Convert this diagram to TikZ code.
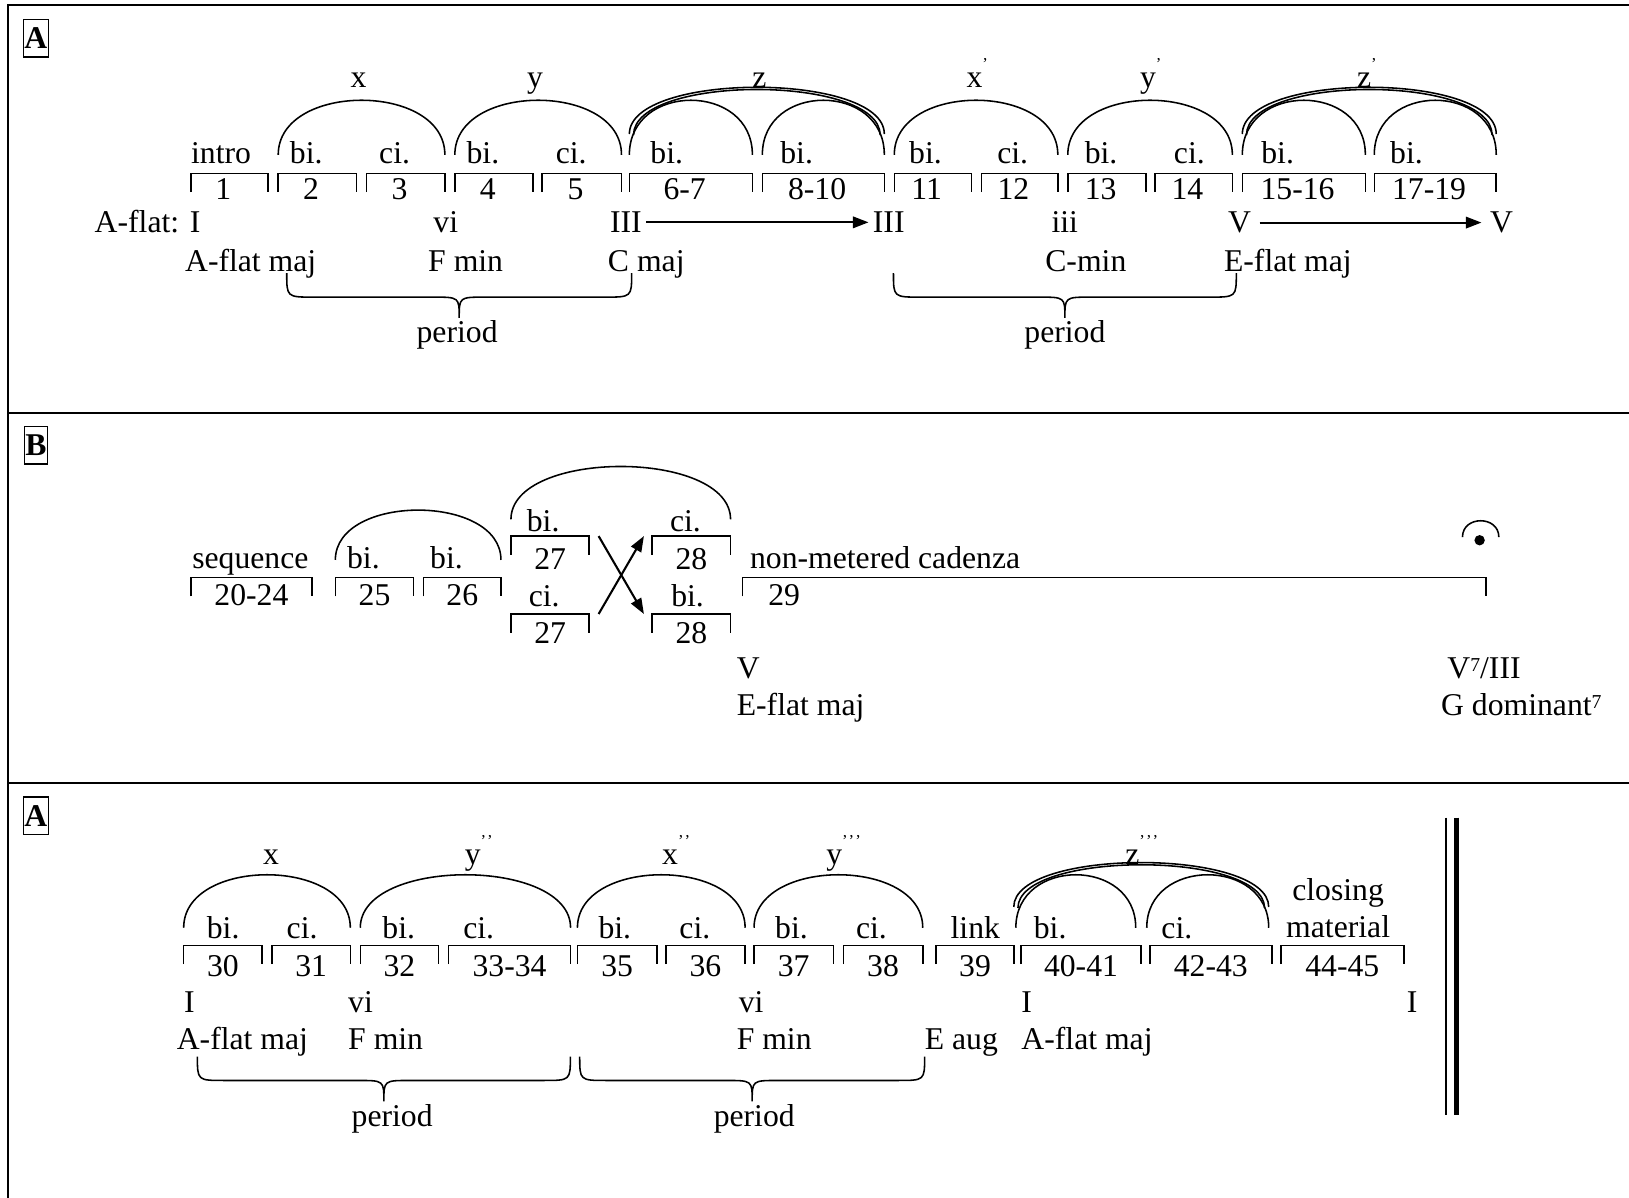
\documentclass[tikz,border=0pt]{standalone}
\usepackage{fontspec}
\setmainfont{Liberation Serif}
\usetikzlibrary{calc, arrows.meta}
\newcommand{\mk}[1]{\rlap{\raisebox{17pt}{\fontsize{16}{16}\selectfont #1}}}
\tikzset{
    every node/.style={font=\fontsize{30.5}{36}\selectfont, inner sep=0pt},
    bar/.style={anchor=north, text depth=0pt, text height=#1},
    bar/.default=30pt,
    shiftnum/.style={execute at begin node={\hspace*{-12pt}}},
    lbl/.style={anchor=base},
    chord/.style={anchor=base west},
    secbox/.style={draw, line width=1.4pt, font=\fontsize{30.5}{36}\selectfont\bfseries, inner xsep=1pt, inner ysep=8pt},
    slur/.style={line width=1.5pt},
    arrow/.style={-{Triangle[length=15pt, width=11pt]}, line width=2pt},
    frame/.style={line width=1.8pt},
}

\begin{document}
\begin{tikzpicture}[x=1pt, y=-1pt]
  \useasboundingbox (0,0) rectangle (1568,1153);
  % frame and dividers
  \draw[frame] (1570,4.8) -- (7.6,4.8) -- (7.6,1156);
  \draw[frame] (7.6,397.8) -- (1570,397.8);
  \draw[frame] (7.6,753.3) -- (1570,753.3);

  %%% section A, bars 1-19
  \node[secbox] (boxA) at (34.5,37) {A};
  \node[bar=25pt, shiftnum, minimum width=74pt] (m1) at (221,167) {1};
  \node[bar=25pt, shiftnum, minimum width=75pt] (m2) at (305.5,167) {2};
  \node[bar=25pt, shiftnum, minimum width=75pt] (m3) at (390.5,167) {3};
  \node[bar=25pt, shiftnum, minimum width=75pt] (m4) at (475.5,167) {4};
  \node[bar=25pt, shiftnum, minimum width=76pt] (m5) at (560,167) {5};
  \node[bar=25pt, shiftnum, minimum width=118pt] (m6) at (665,167) {6-7};
  \node[bar=25pt, shiftnum, minimum width=117pt] (m8) at (792.5,167) {8-10};
  \node[bar=25pt, shiftnum, minimum width=74pt] (m11) at (898,167) {11};
  \node[bar=25pt, shiftnum, minimum width=73pt] (m12) at (981.5,167) {12};
  \node[bar=25pt, shiftnum, minimum width=75pt] (m13) at (1065.5,167) {13};
  \node[bar=25pt, shiftnum, minimum width=74pt] (m14) at (1149,167) {14};
  \node[bar=25pt, shiftnum, minimum width=118pt] (m15) at (1255,167) {15-16};
  \node[bar=25pt, shiftnum, minimum width=117pt] (m17) at (1381.5,167) {17-19};
  \foreach \m in {m1,m2,m3,m4,m5,m6,m8,m11,m12,m13,m14,m15,m17}
    \draw[line width=1.5pt] ([yshift=-18pt]\m.north west) |- (\m.north east) -- ([yshift=-18pt]\m.north east);

  \node[lbl] (t1) at ($(m1.north west)+(29,-10)$) {intro};
  \node[lbl] (t2) at ($(m2.north west)+(27,-10)$) {bi.};
  \node[lbl] (t3) at ($(m3.north west)+(27,-10)$) {ci.};
  \node[lbl] (t4) at ($(m4.north west)+(27,-10)$) {bi.};
  \node[lbl] (t5) at ($(m5.north west)+(28,-10)$) {ci.};
  \node[lbl] (t6) at ($(m6.north west)+(36,-10)$) {bi.};
  \node[lbl] (t8) at ($(m8.north west)+(33,-10)$) {bi.};
  \node[lbl] (t11) at ($(m11.north west)+(30,-10)$) {bi.};
  \node[lbl] (t12) at ($(m12.north west)+(30,-10)$) {ci.};
  \node[lbl] (t13) at ($(m13.north west)+(32,-10)$) {bi.};
  \node[lbl] (t14) at ($(m14.north west)+(33,-10)$) {ci.};
  \node[lbl] (t15) at ($(m15.north west)+(34,-10)$) {bi.};
  \node[lbl] (t17) at ($(m17.north west)+(31,-10)$) {bi.};

  % phrase arcs
  \draw[slur] ([yshift=18pt]m2.north west) .. controls +(0,-70) and +(0,-70) .. ([yshift=18pt]m3.north east);
  \draw[slur] ([yshift=18pt]m4.north west) .. controls +(0,-70) and +(0,-70) .. ([yshift=18pt]m5.north east);
  \draw[slur] ([yshift=18pt]m6.north west) .. controls +(0,-70) and +(0,-70) .. ([yshift=18pt]m6.north east);
  \draw[slur] ([yshift=18pt]m8.north west) .. controls +(0,-70) and +(0,-70) .. ([yshift=18pt]m8.north east);
  \draw[slur] ([yshift=38pt]m6.north west) .. controls +(0,-60) and +(0,-60) .. ([yshift=38pt]m8.north east);
  \draw[slur] ([shift={(4pt,37pt)}]m6.north west) .. controls +(0,-58.5) and +(0,-58.5) .. ([shift={(-4pt,37pt)}]m8.north east);
  \draw[slur] ([yshift=18pt]m11.north west) .. controls +(0,-70) and +(0,-70) .. ([yshift=18pt]m12.north east);
  \draw[slur] ([yshift=18pt]m13.north west) .. controls +(0,-70) and +(0,-70) .. ([yshift=18pt]m14.north east);
  \draw[slur] ([yshift=18pt]m15.north west) .. controls +(0,-70) and +(0,-70) .. ([yshift=18pt]m15.north east);
  \draw[slur] ([yshift=18pt]m17.north west) .. controls +(0,-70) and +(0,-70) .. ([yshift=18pt]m17.north east);
  \draw[slur] ([yshift=38pt]m15.north west) .. controls +(0,-60) and +(0,-60) .. ([yshift=38pt]m17.north east);
  \draw[slur] ([shift={(4pt,37pt)}]m15.north west) .. controls +(0,-58.5) and +(0,-58.5) .. ([shift={(-4pt,37pt)}]m17.north east);

  \node[lbl] (ax) at (345,84) {x};
  \node[lbl] (ay) at (515,84) {y};
  \node[lbl] (az) at (731,84) {z};
  \node[lbl] (ax1) at (938,84) {x\mk{’}};
  \node[lbl] (ay1) at (1105,84) {y\mk{’}};
  \node[lbl] (az1) at (1313,84) {z\mk{’}};

  % harmony
  \node[chord, anchor=base east] (c1) at (193,224) {A-flat: I};
  \node[chord] (c2) at (417,224) {vi};
  \node[chord] (c3) at (587,224) {III};
  \node[chord] (c4) at (840,224) {III};
  \node[chord] (c5) at (1012,224) {iii};
  \node[chord] (c6) at (1182,224) {V};
  \node[chord] (c7) at (1434,224) {V};
  \draw[arrow, shorten <=4pt, shorten >=4pt] (c3) -- (c4);
  \draw[arrow, shorten <=8pt, shorten >=8pt] (c6) -- (c7);
  \node[chord] (k1) at (178,261) {A-flat maj};
  \node[chord] (k2) at (412,261) {F min};
  \node[chord] (k3) at (585,261) {C maj};
  \node[chord] (k4) at (1006,261) {C-min};
  \node[chord] (k5) at (1178,261) {E-flat maj};

  %%% section B, bars 20-29
  \node[secbox] (boxB) at (34.5,428.5) {B};
  \node[bar=27pt, minimum width=116pt] (n20) at (242,556) {20-24};
  \node[bar=27pt, minimum width=75pt] (n25) at (360.5,556) {25};
  \node[bar=27pt, minimum width=74pt] (n26) at (445,556) {26};
  \node[bar=32pt, minimum width=75pt] (n27a) at (529.5,516) {27};
  \node[bar=32pt, minimum width=75pt] (n28a) at (665.5,516) {28};
  \node[bar=28pt, minimum width=75pt] (n27b) at (529.5,591) {27};
  \node[bar=28pt, minimum width=75pt] (n28b) at (665.5,591) {28};
  \node[bar=27pt, minimum width=715pt] (n29) at (1072.5,556) {};
  \node[lbl] (num29) at ($(n29.north west)+(40,27)$) {29};
  \foreach \m in {n20,n25,n26,n27a,n28a,n27b,n28b,n29}
    \draw[line width=1.5pt] ([yshift=-18pt]\m.north west) |- (\m.north east) -- ([yshift=-18pt]\m.north east);

  \node[lbl] (s20) at ($(n20.north)+(-1,-9)$) {sequence};
  \node[lbl] (s25) at ($(n25.north west)+(27,-9)$) {bi.};
  \node[lbl] (s26) at ($(n26.north west)+(22,-9)$) {bi.};
  \node[lbl] (s27a) at ($(n27a.north west)+(31,-4)$) {bi.};
  \node[lbl] (s28a) at ($(n28a.north west)+(32,-4)$) {ci.};
  \node[lbl] (s27b) at ($(n27b.north west)+(32,-7)$) {ci.};
  \node[lbl] (s28b) at ($(n28b.north west)+(34,-7)$) {bi.};
  \node[chord] (s29) at ($(n29.north west)+(7,-9)$) {non-metered cadenza};

  \draw[slur] ([yshift=17pt]n25.north west) .. controls +(0,-64) and +(0,-64) .. ([yshift=17pt]n26.north east);
  \draw[slur] ([yshift=16pt]n27a.north west) .. controls +(0,-68) and +(0,-68) .. ([yshift=16pt]n28a.north east);
  \draw[arrow] ([xshift=9pt]n27a.north east) -- ([xshift=-8pt]n28b.north west);
  \draw[arrow] ([xshift=9pt]n27b.north east) -- ([xshift=-8pt]n28a.north west);

  % fermata
  \coordinate (ferm) at ($(n29.north east)+(-6,-36)$);
  \fill (ferm) circle[radius=5pt];
  \draw[slur] ($(ferm)+(-16.5,-3)$) .. controls +(0,-21) and +(0,-21) .. ($(ferm)+(18.5,-3)$);

  \node[chord] (v1) at (709,653) {V};
  \node[chord] (v2) at (709,689) {E-flat maj};
  \node[chord] (v3) at (1393,653) {V\raisebox{7pt}{\fontsize{19}{19}\selectfont 7}/III};
  \node[chord] (v4) at (1387,689) {G dominant\raisebox{7pt}{\fontsize{19}{19}\selectfont 7}};

  %%% section A again, bars 30-45
  \node[secbox] (boxC) at (34.5,785) {A};
  \node[bar, minimum width=75pt] (q30) at (214.5,910) {30};
  \node[bar, minimum width=75pt] (q31) at (299.5,910) {31};
  \node[bar, minimum width=75pt] (q32) at (384.5,910) {32};
  \node[bar, minimum width=117pt] (q33) at (490.5,910) {33-34};
  \node[bar, minimum width=76pt] (q35) at (594,910) {35};
  \node[bar, minimum width=76pt] (q36) at (679,910) {36};
  \node[bar, minimum width=76pt] (q37) at (764,910) {37};
  \node[bar, minimum width=76pt] (q38) at (850,910) {38};
  \node[bar, minimum width=75pt] (q39) at (938.5,910) {39};
  \node[bar, minimum width=115pt] (q40) at (1040.5,910) {40-41};
  \node[bar, minimum width=117pt] (q42) at (1165.5,910) {42-43};
  \node[bar, minimum width=118pt] (q44) at (1292,910) {44-45};
  \foreach \m in {q30,q31,q32,q33,q35,q36,q37,q38,q39,q40,q42,q44}
    \draw[line width=1.5pt] ([yshift=-18pt]\m.north west) |- (\m.north east) -- ([yshift=-18pt]\m.north east);

  \node[lbl] (u30) at ($(q30.north west)+(38,-7)$) {bi.};
  \node[lbl] (u31) at ($(q31.north west)+(29,-7)$) {ci.};
  \node[lbl] (u32) at ($(q32.north west)+(37,-7)$) {bi.};
  \node[lbl] (u33) at ($(q33.north west)+(29,-7)$) {ci.};
  \node[lbl] (u35) at ($(q35.north west)+(36,-7)$) {bi.};
  \node[lbl] (u36) at ($(q36.north west)+(28,-7)$) {ci.};
  \node[lbl] (u37) at ($(q37.north west)+(36,-7)$) {bi.};
  \node[lbl] (u38) at ($(q38.north west)+(27,-7)$) {ci.};
  \node[lbl] (u39) at ($(q39.north west)+(38,-7)$) {link};
  \node[lbl] (u40) at ($(q40.north west)+(28,-7)$) {bi.};
  \node[lbl] (u42) at ($(q42.north west)+(26,-7)$) {ci.};
  \node[align=center, anchor=south] (u44) at ($(q44.north)+(-4,-7)$) {closing\\material};

  \draw[slur] ([yshift=17pt]q30.north west) .. controls +(0,-68) and +(0,-68) .. ([yshift=17pt]q31.north east);
  \draw[slur] ([yshift=17pt]q32.north west) .. controls +(0,-68) and +(0,-68) .. ([yshift=17pt]q33.north east);
  \draw[slur] ([yshift=17pt]q35.north west) .. controls +(0,-68) and +(0,-68) .. ([yshift=17pt]q36.north east);
  \draw[slur] ([yshift=17pt]q37.north west) .. controls +(0,-68) and +(0,-68) .. ([yshift=17pt]q38.north east);
  \draw[slur] ([shift={(-5pt,17pt)}]q40.north west) .. controls +(0,-68) and +(0,-68) .. ([shift={(-5pt,17pt)}]q40.north east);
  \draw[slur] ([shift={(-3pt,17pt)}]q42.north west) .. controls +(0,-68) and +(0,-68) .. ([shift={(-3pt,17pt)}]q42.north east);
  \draw[slur] ([shift={(-7pt,37pt)}]q40.north west) .. controls +(0,-57) and +(0,-57) .. ([shift={(-3pt,37pt)}]q42.north east);
  \draw[slur] ([shift={(-3pt,36pt)}]q40.north west) .. controls +(0,-55.5) and +(0,-55.5) .. ([shift={(-7pt,36pt)}]q42.north east);

  \node[lbl] (bx) at (261,832) {x};
  \node[lbl] (by2) at (455,832) {y\mk{’\kern1pt’}};
  \node[lbl] (bx2) at (645,832) {x\mk{’\kern1pt’}};
  \node[lbl] (by3) at (803,832) {y\mk{’\kern1pt’\kern1pt’}};
  \node[lbl] (bz3) at (1090,832) {z\mk{’\kern1pt’\kern1pt’}};

  \node[chord] (d1) at (177,975) {I};
  \node[chord] (d2) at (335,975) {vi};
  \node[chord] (d3) at (711,975) {vi};
  \node[chord] (d4) at (983,975) {I};
  \node[chord] (d5) at (1354,975) {I};
  \node[chord] (e1) at (170,1010) {A-flat maj};
  \node[chord] (e2) at (335,1010) {F min};
  \node[chord] (e3) at (709,1010) {F min};
  \node[chord] (e4) at (890,1010) {E aug};
  \node[chord] (e5) at (983,1010) {A-flat maj};

  % final double bar
  \draw[line width=1.8pt] (1392,787) -- (1392,1073);
  \draw[line width=5.5pt] (1402,787) -- (1402,1073);

  % period braces
  \foreach \xl/\xr/\yb/\dx [count=\i] in {276/608/263/-2, 860/1190/263/0, 190/549/1017/8, 558/890/1017/2} {
    \pgfmathsetmacro{\cx}{(\xl+\xr)/2}
    \draw[slur] (\xl,\yb) .. controls (\xl,\yb+23) .. (\xl+26,\yb+23) -- (\cx-25,\yb+23)
      .. controls (\cx,\yb+23) .. (\cx,\yb+43) .. controls (\cx,\yb+23) .. (\cx+25,\yb+23)
      -- (\xr-26,\yb+23) .. controls (\xr,\yb+23) .. (\xr,\yb);
    \node[lbl] (per\i) at (\cx+\dx,\yb+67) {period};
  }
\end{tikzpicture}
\end{document}
